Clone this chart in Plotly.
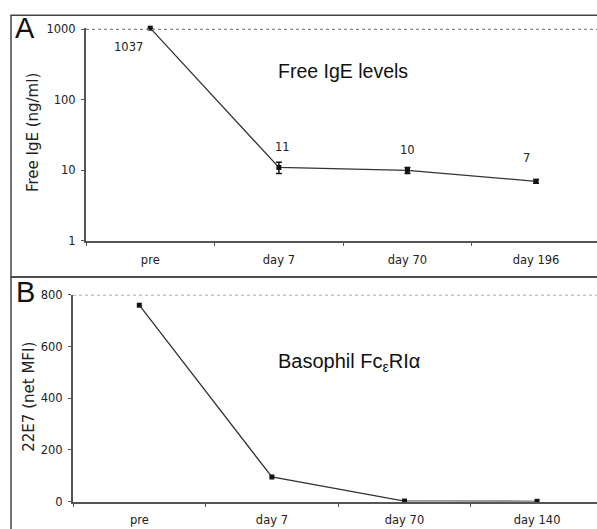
import math
import plotly.graph_objects as go

# Panel A data
cats_a = ["pre", "day 7", "day 70", "day 196"]
ige = [1037, 11, 10, 7]
ige_err_plus = [0, 2, 1, 0.4]
ige_err_minus = [0, 2, 1, 0.4]
ige_labels = ["1037", "11", "10", "7"]

# Panel B data
cats_b = ["pre", "day 7", "day 70", "day 140"]
fce = [760, 95, 2, 1]

W, H = 597, 529
def px(x):
    return x / W
def py(y):
    yy = (y - 5.7) / 0.975
    return 1 - yy / H

fig = go.Figure()
line_col = "#333333"
fig.add_trace(go.Scatter(
    x=cats_a, y=ige, mode="lines+markers", xaxis="x", yaxis="y",
    line=dict(color=line_col, width=1.3),
    marker=dict(symbol="square", size=5, color="#111111"),
    error_y=dict(type="data", array=ige_err_plus, arrayminus=ige_err_minus,
                 color="#111111", thickness=1.5, width=3),
    cliponaxis=False, showlegend=False))
fig.add_trace(go.Scatter(
    x=cats_b, y=fce, mode="lines+markers", xaxis="x2", yaxis="y2",
    line=dict(color=line_col, width=1.3),
    marker=dict(symbol="square", size=5, color="#111111"),
    cliponaxis=False, showlegend=False))

xtickfont = dict(family="DejaVu Sans", size=11.5, color="#222222")
ytickfont = dict(family="DejaVu Sans", size=11.5, color="#222222")
common_x = dict(type="category", showline=True, linecolor="#555555", linewidth=2,
                ticks="outside", ticklen=3, tickcolor="#555555", tickson="boundaries",
                showgrid=False, zeroline=False, tickfont=xtickfont, ticklabelstandoff=7)
common_y = dict(showline=True, linecolor="#555555", linewidth=2, ticks="outside",
                ticklen=3, tickcolor="#555555", showgrid=False, zeroline=False,
                tickfont=ytickfont, ticklabelstandoff=3)

fig.update_layout(
    width=W, height=H, margin=dict(l=0, r=0, t=0, b=0),
    paper_bgcolor="white", plot_bgcolor="white",
    xaxis=dict(common_x, domain=[px(86), 1], range=[-0.5, 3.474], anchor="y"),
    yaxis=dict(common_y, type="log", domain=[py(240), py(26.6)], range=[0, 3.02],
               tickvals=[1, 10, 100, 1000], ticktext=["1", "10", "100", "1000"], anchor="x"),
    xaxis2=dict(common_x, domain=[px(73), 1], range=[-0.5, 3.452], anchor="y2"),
    yaxis2=dict(common_y, domain=[py(501), py(294)], range=[0, 800],
                tickvals=[0, 200, 400, 600, 800], anchor="x2"),
)

shapes = []
# Panel frames
shapes.append(dict(type="rect", xref="paper", yref="paper", x0=px(11), x1=1.02,
                   y0=py(276), y1=py(14), line=dict(color="#444444", width=1.5)))
shapes.append(dict(type="rect", xref="paper", yref="paper", x0=px(11), x1=1.02,
                   y0=-0.03, y1=py(276), line=dict(color="#444444", width=1.5)))
# Dotted top gridlines
shapes.append(dict(type="line", xref="x domain", yref="y", x0=0, x1=1, y0=1000, y1=1000,
                   line=dict(color="#888888", width=1.2, dash="dot")))
shapes.append(dict(type="line", xref="x2 domain", yref="y2", x0=0, x1=1, y0=800, y1=800,
                   line=dict(color="#888888", width=1.2, dash="dot")))
fig.update_layout(shapes=shapes)

lab_font = dict(family="DejaVu Sans", size=11.5, color="#222222")
offs = [(-22, -19), (4, 20), (0, 20), (-10, 23)]
ann = []
for c, v, t, (dx, dy) in zip(cats_a, ige, ige_labels, offs):
    ann.append(dict(x=c, y=math.log10(v), xref="x", yref="y", text=t, showarrow=False,
                    xshift=dx, yshift=dy, font=lab_font))

def pann(x, y, text, font, **kw):
    d = dict(x=px(x), y=py(y), xref="paper", yref="paper", text=text, showarrow=False,
             xanchor="center", yanchor="middle", font=font)
    d.update(kw)
    return d

# titles inside plots
ann.append(pann(343, 70, "Free IgE levels",
                dict(family="Liberation Sans", size=19.5, color="#111111")))
ann.append(pann(349, 362, "Basophil Fc<sub>ε</sub>RIα",
                dict(family="Liberation Sans", size=20, color="#111111")))
# axis titles
ann.append(pann(33, 132, "Free IgE (ng/ml)",
                dict(family="DejaVu Sans", size=15, color="#222222"), textangle=-90))
ann.append(pann(29, 396, "22E7 (net MFI)",
                dict(family="DejaVu Sans", size=15, color="#222222"), textangle=-90))
# panel letters
ann.append(pann(25, 27, "A", dict(family="Liberation Sans", size=29, color="#111111")))
ann.append(pann(25, 291, "B", dict(family="Liberation Sans", size=29, color="#111111")))
fig.update_layout(annotations=ann)

fig.write_html("out.html", config={"displayModeBar": False},
               post_script="document.body.style.margin='0';document.body.style.overflow='hidden';")
